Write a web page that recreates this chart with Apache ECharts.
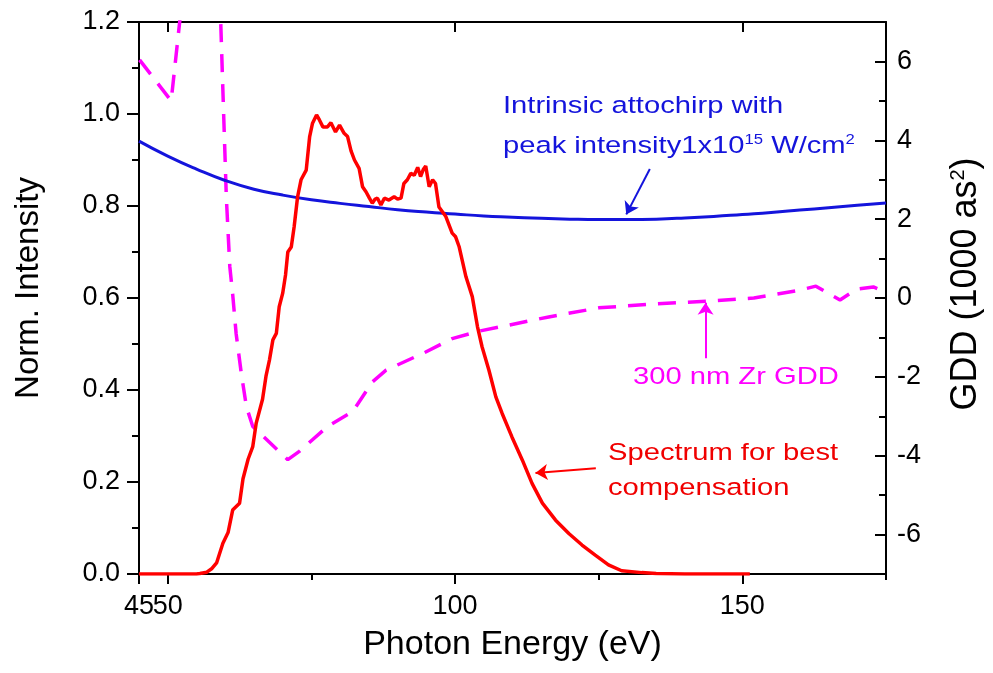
<!DOCTYPE html>
<html>
<head>
<meta charset="utf-8">
<script src="https://cdn.jsdelivr.net/npm/echarts@6/dist/echarts.min.js"></script>
<style>html,body{margin:0;padding:0;background:#fff}#c{width:993px;height:673px}</style>
</head>
<body>
<div id="c"></div>
<script>
// ---- data ----
var specE = [45, 50, 55, 55.6, 56.8, 57.7, 58.5, 59.6, 60.5, 61.3, 62.5, 63.1, 64.0, 64.8, 65.4, 66.5, 67.1, 67.7, 68.3, 68.9, 69.4, 70.0, 70.5, 70.9, 71.5, 72.0, 72.6, 73.2, 74.1, 74.7, 75.2, 75.9, 76.4, 77.0, 77.8, 78.4, 79.2, 79.9, 80.7, 81.3, 81.9, 82.5, 83.3, 83.9, 84.5, 85.1, 85.6, 86.1, 86.5, 87.1, 87.7, 88.5, 89.4, 90.0, 90.6, 91.1, 91.7, 92.3, 92.9, 93.5, 94.0, 94.5, 94.9, 95.5, 96.1, 96.6, 97.2, 98.4, 99.5, 100.1, 100.7, 101.9, 103.0, 103.9, 104.7, 105.9, 107.1, 108.2, 109.9, 111.7, 113.4, 115.2, 117.5, 119.8, 122.1, 124.4, 126.7, 129.0, 132.5, 135, 140, 145, 151.3];
var specI = [0, 0, 0, 0.001, 0.004, 0.012, 0.024, 0.067, 0.09, 0.139, 0.154, 0.207, 0.25, 0.277, 0.328, 0.38, 0.43, 0.465, 0.509, 0.523, 0.581, 0.61, 0.65, 0.700, 0.711, 0.755, 0.82, 0.857, 0.878, 0.951, 0.98, 0.998, 0.987, 0.972, 0.972, 0.981, 0.961, 0.976, 0.958, 0.951, 0.92, 0.9, 0.882, 0.842, 0.831, 0.817, 0.806, 0.815, 0.817, 0.802, 0.817, 0.813, 0.82, 0.815, 0.817, 0.849, 0.857, 0.871, 0.867, 0.884, 0.864, 0.88, 0.887, 0.842, 0.857, 0.849, 0.798, 0.777, 0.741, 0.733, 0.712, 0.646, 0.603, 0.538, 0.494, 0.443, 0.385, 0.349, 0.298, 0.248, 0.197, 0.154, 0.117, 0.088, 0.063, 0.041, 0.02, 0.007, 0.003, 0.001, 0, 0, 0];

var chirpE = [45, 50, 55, 60, 65, 70, 75, 80, 85, 90, 95, 100, 105, 110, 115, 120, 125, 130, 135, 140, 145, 150, 155, 160, 165, 170, 175];
var chirpG = [3.98, 3.6, 3.27, 2.98, 2.76, 2.61, 2.49, 2.40, 2.32, 2.24, 2.18, 2.13, 2.08, 2.05, 2.02, 2.0, 1.99, 1.99, 2.0, 2.03, 2.07, 2.12, 2.17, 2.23, 2.29, 2.35, 2.41];

var zrE = [45.1, 50.6, 52.3, 53.2, 58.3, 59.2, 59.7, 60.2, 60.8, 61.3, 61.9, 62.8, 63.7, 64.8, 70.9, 72.9, 77.8, 82.2, 85.6, 88.0, 94.9, 99.5, 104.2, 107.6, 116.3, 125, 135, 144, 152, 160, 162.8, 167, 169.8, 172.8, 175];
var zrG = [6.04, 5.0, 7.3, 9.5, 9.5, 7.1, 4.8, 2.55, 0.8, 0.1, -0.9, -1.91, -2.76, -3.26, -4.10, -3.89, -3.26, -2.88, -2.13, -1.83, -1.37, -1.03, -0.84, -0.74, -0.48, -0.25, -0.15, -0.08, 0.0, 0.2, 0.3, -0.05, 0.22, 0.28, 0.15];

var xLabels = [50, 100, 150];
var xStartLabel = [45];
var xMajorTicks = [45, 50, 100, 150];
var xMinorTicks = [75, 125, 175];
var gddLabels = [-6, -4, -2, 0, 2, 4, 6];
var gddMinor = [-5, -3, -1, 1, 3, 5];

var FONT = 'Liberation Sans, Arial, sans-serif';
var BLUE = '#1414dc', RED = '#ff0000', MAG = '#ff00ff';

function pairs(a, b) { return a.map(function (v, i) { return [v, b[i]]; }); }

var chart = echarts.init(document.getElementById('c'));
var baseX = { type: 'value', min: 45, max: 175, splitLine: { show: false } };
var LINE = { show: true, onZero: false, lineStyle: { color: '#000', width: 2 } };
var NOLINE = { show: false, onZero: false };
var XLAB = { fontSize: 27, fontFamily: FONT, color: '#000', margin: 19, hideOverlap: false, showMinLabel: true, showMaxLabel: true };
chart.setOption({
  animation: false,
  backgroundColor: '#fff',
  grid: { left: 139, right: 107, top: 22, bottom: 99, containLabel: false },
  xAxis: [
    Object.assign({}, baseX, {
      position: 'bottom',
      name: 'Photon Energy (eV)', nameLocation: 'middle', nameGap: 54,
      nameTextStyle: { fontSize: 34, fontFamily: FONT, color: '#000' },
      axisLine: LINE,
      axisTick: { show: true, inside: false, length: 10, customValues: xMajorTicks, lineStyle: { color: '#000', width: 2 } },
      axisLabel: Object.assign({ show: true, customValues: xLabels }, XLAB)
    }),
    Object.assign({}, baseX, {
      position: 'bottom',
      axisLine: NOLINE,
      axisTick: { show: true, inside: false, length: 6, customValues: xMinorTicks, lineStyle: { color: '#000', width: 2 } },
      axisLabel: { show: false }
    }),
    Object.assign({}, baseX, {
      position: 'top',
      axisLine: LINE,
      axisTick: { show: true, inside: true, length: 10, customValues: [50, 100, 150], lineStyle: { color: '#000', width: 2 } },
      axisLabel: { show: false }
    }),
    Object.assign({}, baseX, {
      position: 'bottom',
      axisLine: NOLINE,
      axisTick: { show: false },
      axisLabel: Object.assign({ show: true, customValues: xStartLabel }, XLAB)
    })
  ],
  yAxis: [
    {
      type: 'value', position: 'left', min: 0, max: 1.2, interval: 0.2,
      name: 'Norm. Intensity', nameLocation: 'middle', nameGap: 94,
      nameTextStyle: { fontSize: 33, fontFamily: FONT, color: '#000', padding: [0, 0, 0, 20] },
      splitLine: { show: false },
      axisLine: LINE,
      axisTick: { show: true, inside: false, length: 12, lineStyle: { color: '#000', width: 2 } },
      minorTick: { show: true, splitNumber: 2, length: 7, lineStyle: { color: '#000', width: 2 } },
      axisLabel: { fontSize: 27, fontFamily: FONT, color: '#000', margin: 19, formatter: function (v) { return v.toFixed(1); } }
    },
    {
      type: 'value', position: 'right', min: -7, max: 7,
      name: 'GDD (1000 as{sup|2})', nameLocation: 'middle', nameGap: 62,
      nameTextStyle: { fontSize: 36, fontFamily: FONT, color: '#000', padding: [0, 0, 0, 28],
        rich: { sup: { fontSize: 20, fontFamily: FONT, color: '#000', verticalAlign: 'top' } } },
      splitLine: { show: false },
      axisLine: LINE,
      axisTick: { show: true, inside: true, length: 11, customValues: gddLabels, lineStyle: { color: '#000', width: 2 } },
      axisLabel: { show: true, customValues: gddLabels, fontSize: 27, fontFamily: FONT, color: '#000', margin: 11 }
    },
    {
      type: 'value', position: 'right', min: -7, max: 7,
      splitLine: { show: false },
      axisLine: NOLINE,
      axisTick: { show: true, inside: true, length: 7, customValues: gddMinor, lineStyle: { color: '#000', width: 2 } },
      axisLabel: { show: false }
    }
  ],
  series: [
    {
      name: '300 nm Zr GDD', type: 'line', xAxisIndex: 0, yAxisIndex: 1,
      data: pairs(zrE, zrG), showSymbol: false, symbol: 'none', clip: true,
      lineStyle: { color: MAG, width: 3.5, type: [18, 12] },
      markLine: {
        silent: true, symbol: ['none', 'arrow'], symbolSize: 12,
        lineStyle: { color: MAG, width: 2, type: 'solid' }, label: { show: false },
        data: [[{ coord: [143.6, -1.53] }, { coord: [143.6, -0.12] }]]
      }
    },
    {
      name: 'Intrinsic attochirp', type: 'line', xAxisIndex: 0, yAxisIndex: 1,
      data: pairs(chirpE, chirpG), showSymbol: false, symbol: 'none', smooth: true,
      lineStyle: { color: BLUE, width: 3 },
      markLine: {
        silent: true, symbol: ['none', 'arrow'], symbolSize: 12,
        lineStyle: { color: BLUE, width: 2, type: 'solid' }, label: { show: false },
        data: [[{ coord: [133.9, 3.27] }, { coord: [129.8, 2.12] }]]
      }
    },
    {
      name: 'Spectrum', type: 'line', xAxisIndex: 0, yAxisIndex: 0,
      data: pairs(specE, specI), showSymbol: false, symbol: 'none',
      lineStyle: { color: RED, width: 3.5 },
      markLine: {
        silent: true, symbol: ['none', 'arrow'], symbolSize: 12,
        lineStyle: { color: RED, width: 2, type: 'solid' }, label: { show: false },
        data: [[{ coord: [124.5, 0.230] }, { coord: [114.0, 0.2196] }]]
      }
    }
  ],
  graphic: [
    { type: 'text', x: 503, y: 106, scaleX: 1.19, silent: true,
      style: { text: 'Intrinsic attochirp with', fontSize: 24.5, fontFamily: FONT, fill: BLUE, align: 'left', verticalAlign: 'middle' } },
    { type: 'text', x: 503, y: 146, scaleX: 1.19, silent: true,
      style: { text: 'peak intensity1x10{sup|15} W/cm{sup|2}', fontSize: 24.5, fontFamily: FONT, fill: BLUE, align: 'left', verticalAlign: 'middle',
        rich: { sup: { fontSize: 14, fontFamily: FONT, fill: BLUE, verticalAlign: 'top' } } } },
    { type: 'text', x: 633, y: 377, scaleX: 1.19, silent: true,
      style: { text: '300 nm Zr GDD', fontSize: 24.5, fontFamily: FONT, fill: MAG, align: 'left', verticalAlign: 'middle' } },
    { type: 'text', x: 608, y: 453, scaleX: 1.19, silent: true,
      style: { text: 'Spectrum for best', fontSize: 24.5, fontFamily: FONT, fill: '#f00000', align: 'left', verticalAlign: 'middle' } },
    { type: 'text', x: 608, y: 488, scaleX: 1.19, silent: true,
      style: { text: 'compensation', fontSize: 24.5, fontFamily: FONT, fill: '#f00000', align: 'left', verticalAlign: 'middle' } }
  ]
});
</script>
</body>
</html>
